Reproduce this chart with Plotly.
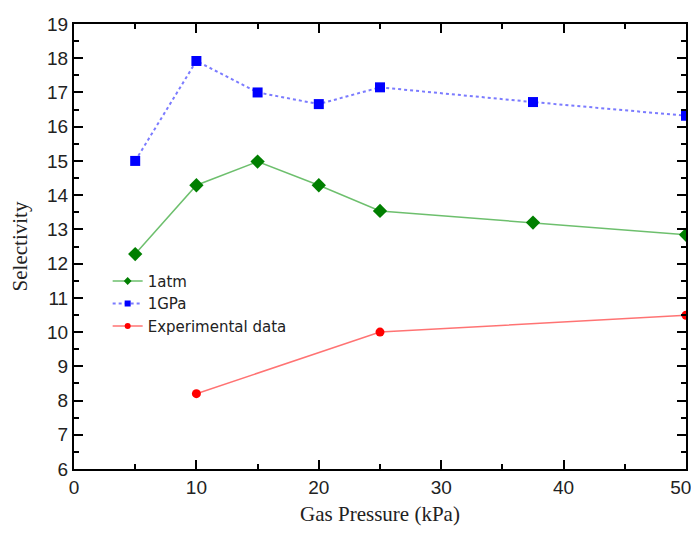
import plotly.graph_objects as go

pressure = [5, 10, 15, 20, 25, 37.5, 50]
sel_1atm = [12.28, 14.29, 14.98, 14.29, 13.54, 13.2, 12.84]
sel_1gpa = [15.0, 17.92, 17.0, 16.66, 17.15, 16.72, 16.32]
exp_pressure = [10, 25, 50]
sel_exp = [8.2, 10.0, 10.49]
x_tick_vals = [0, 10, 20, 30, 40, 50]
x_tick_text = ["0", "10", "20", "30", "40", "50\u2007"]

series = [
    ("1atm", pressure, sel_1atm, dict(color="rgba(60,170,60,0.75)", width=1.5), "diamond", 11, "#007f00"),
    ("1GPa", pressure, sel_1gpa, dict(color="rgba(90,90,255,0.8)", width=2, dash="dot"), "square", 10, "#0000ff"),
    ("Experimental data", exp_pressure, sel_exp, dict(color="rgba(255,80,80,0.8)", width=1.5), "circle", 9, "#ff0000"),
]

fig = go.Figure()
for name, xs, ys, line, sym, size, col in series:
    fig.add_trace(go.Scatter(x=xs, y=ys, name=name, mode="lines+markers", line=line,
                             marker=dict(symbol=sym, size=size, color=col), showlegend=False))
for name, xs, ys, line, sym, size, col in series:
    fig.add_trace(go.Scatter(x=[None], y=[None], name=name, mode="lines+markers", line=line,
                             marker=dict(symbol=sym, size=6, color=col), showlegend=True))

axis_common = dict(showline=True, linecolor="black", linewidth=2, mirror="ticks",
                   ticks="inside", ticklen=9, tickwidth=1.5, tickcolor="black",
                   showgrid=False, zeroline=False, automargin=False, ticklabeloverflow="allow",
                   tickfont=dict(family="Liberation Sans, Arial", size=19, color="#222"))

fig.update_xaxes(range=[0, 50], tickmode="array", tickvals=x_tick_vals, ticktext=x_tick_text,
                 minor=dict(dtick=5, ticks="inside", ticklen=5, tickwidth=1.5, tickcolor="black"),
                 title=dict(text="Gas Pressure (kPa)", font=dict(family="Liberation Serif, Times New Roman", size=21, color="#222"), standoff=10),
                 **axis_common)
fig.update_yaxes(range=[6, 19], dtick=1,
                 minor=dict(dtick=0.5, ticks="inside", ticklen=5, tickwidth=1.5, tickcolor="black"),
                 title=dict(text="Selectivity", font=dict(family="Liberation Serif, Times New Roman", size=21, color="#222"), standoff=21),
                 **axis_common)

fig.update_layout(width=691, height=518, margin=dict(l=66, r=13, t=16, b=57),
                  plot_bgcolor="white", paper_bgcolor="white",
                  legend=dict(x=0.055, y=0.459, xanchor="left", yanchor="top",
                              bgcolor="rgba(0,0,0,0)", tracegroupgap=0,
                              font=dict(family="DejaVu Sans, Verdana", size=15, color="#222")))

fig.write_html("out.html")
